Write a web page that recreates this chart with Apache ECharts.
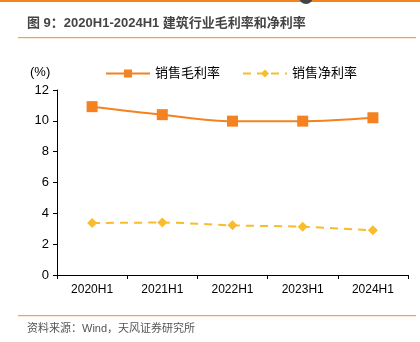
<!DOCTYPE html>
<html><head><meta charset="utf-8">
<script src="https://cdn.jsdelivr.net/npm/echarts@6/dist/echarts.min.js"></script>
<style>html,body{margin:0;padding:0;background:#fff}#c{width:420px;height:342px}</style>
</head><body><div id="c"></div>
<script>
const categories = ['2020H1','2021H1','2022H1','2023H1','2024H1'];
const grossMargin = [10.92, 10.4, 9.98, 9.98, 10.2];
const netMargin = [3.37, 3.4, 3.22, 3.13, 2.9];
const yTicks = [0, 2, 4, 6, 8, 10, 12];
const seriesNames = ['销售毛利率', '销售净利率'];
const titleText = '图 9：2020H1-2024H1 建筑行业毛利率和净利率';
const sourceText = '资料来源：Wind，天风证券研究所';

const chart = echarts.init(document.getElementById('c'));
const font = '"Liberation Sans", Arial, "Noto Sans CJK SC", sans-serif';
chart.setOption({
  animation: false,
  textStyle: { fontFamily: font },
  graphic: [
    { type: 'rect', shape: { x: 0, y: 0, width: 420, height: 2 }, style: { fill: '#F58220' } },
    { type: 'circle', shape: { cx: 306, cy: -3, r: 7 }, style: { fill: '#444' } },
    { type: 'text', left: 27, top: 17, style: { text: titleText, font: 'bold 13px ' + font, fill: '#444' } },
    { type: 'rect', shape: { x: 18, y: 37, width: 398, height: 1.2 }, style: { fill: '#F9A24E' } },
    { type: 'rect', shape: { x: 18, y: 315, width: 398, height: 1.2 }, style: { fill: '#F9A24E' } },
    { type: 'text', left: 27, top: 323, style: { text: sourceText, font: '11px ' + font, fill: '#555' } },
    { type: 'text', left: 30, top: 66, style: { text: '(%)', font: '13px ' + font, fill: '#000' } }
  ],
  legend: {
    top: 62, left: 100, itemGap: 22, itemWidth: 44, itemHeight: 10,
    textStyle: { fontSize: 13, color: '#000' },
    data: seriesNames
  },
  grid: { left: 57, right: 12, top: 90, bottom: 67 },
  xAxis: {
    type: 'category', data: categories, boundaryGap: true,
    axisLine: { lineStyle: { color: '#000', width: 1 } },
    axisTick: { show: true, length: 4, lineStyle: { color: '#000' } },
    axisLabel: { color: '#000', fontSize: 12, margin: 9 }
  },
  yAxis: {
    type: 'value', min: 0, max: 12, interval: 2,
    axisLine: { show: true, lineStyle: { color: '#000' } },
    axisTick: { show: true, length: 4, lineStyle: { color: '#000' } },
    axisLabel: { color: '#000', fontSize: 13, margin: 8 },
    splitLine: { show: false }
  },
  series: [
    { name: seriesNames[0], type: 'line', data: grossMargin, smooth: 0.35,
      symbol: 'rect', symbolSize: 11,
      lineStyle: { color: '#F58220', width: 2 }, itemStyle: { color: '#F58220' } },
    { name: seriesNames[1], type: 'line', data: netMargin, smooth: 0.3,
      symbol: 'diamond', symbolSize: 10,
      lineStyle: { color: '#F9BC2C', width: 2, type: [8, 6] }, itemStyle: { color: '#F9BC2C' } }
  ]
});
</script></body></html>
